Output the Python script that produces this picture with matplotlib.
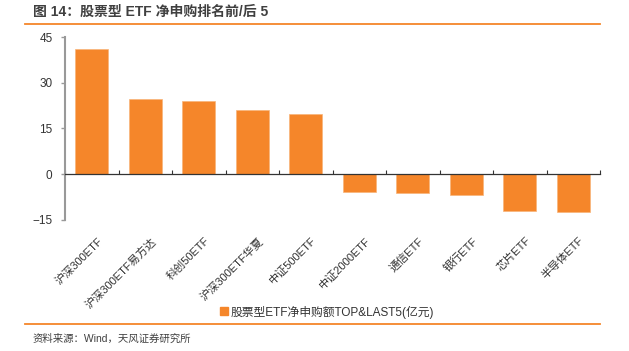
import matplotlib
matplotlib.use("Agg")
import matplotlib.pyplot as plt
from matplotlib.lines import Line2D
import numpy as np

plt.rcParams['font.family'] = ['Liberation Sans', 'Noto Sans CJK SC', 'DejaVu Sans']

categories = ["沪深300ETF", "沪深300ETF易方达", "科创50ETF", "沪深300ETF华夏", "中证500ETF",
              "中证2000ETF", "通信ETF", "银行ETF", "芯片ETF", "半导体ETF"]
values = [41.1, 24.7, 24.0, 21.0, 19.7, -5.8, -6.3, -6.9, -12.0, -12.5]
yticks = [-15, 0, 15, 30, 45]
title = "图 14：股票型 ETF 净申购排名前/后 5"
legend_label = "股票型ETF净申购额TOP&LAST5(亿元)"
source = "资料来源：Wind，天风证券研究所"

orange = "#F5862A"

fig = plt.figure(figsize=(6.29, 3.51), dpi=100)
W, H = 629, 351
ax = fig.add_axes([65 / W, 1 - 220 / H, (600 - 65) / W, (220 - 37) / H])

x = np.arange(len(categories))
ax.bar(x, values, width=0.62, color=orange, edgecolor="#F8B57A", linewidth=0.5, zorder=2)

ax.set_xlim(-0.5, len(categories) - 0.5)
ax.set_ylim(-15, 45)
ax.set_yticks(yticks)
ax.tick_params(axis='y', direction='out', length=3, width=1, color='#999999',
               labelsize=8.5, labelcolor='#333333', pad=6)

for s in ['top', 'right']:
    ax.spines[s].set_visible(False)
ax.spines['left'].set_color('#999999')
ax.spines['left'].set_linewidth(1.5)
ax.spines['bottom'].set_position(('data', 0))
ax.spines['bottom'].set_color('#333333')
ax.spines['bottom'].set_linewidth(0.9)

ax.set_xticks(x)
ax.set_xticklabels(categories, rotation=45, ha='right', va='top', rotation_mode='anchor',
                   fontsize=8, color='#333333')
ax.set_xticks(np.arange(len(categories) + 1) - 0.5, minor=True)
ax.tick_params(axis='x', which='major', length=0, pad=44)
ax.tick_params(axis='x', which='minor', direction='in', length=3, width=0.8, color='#333333')
for lbl in ax.get_xticklabels():
    lbl.set_transform(lbl.get_transform() + matplotlib.transforms.ScaledTranslation(4 / 72, 0, fig.dpi_scale_trans))

# legend
handle = Line2D([], [], marker='s', linestyle='none', markersize=6, color=orange)
fig.legend([handle], [legend_label], loc='center', bbox_to_anchor=(326 / W, 1 - 312 / H),
           frameon=False, fontsize=8.5, handletextpad=0.1, handlelength=1.0,
           labelcolor='#333333')

# title and decorations
fig.text(33 / W, 1 - 12 / H, title, fontsize=10, fontweight='bold', color='#404040',
         va='center', ha='left')
fig.add_artist(Line2D([25 / W, 600 / W], [1 - 24 / H, 1 - 24 / H], color=orange, linewidth=1.3,
                      transform=fig.transFigure))
fig.add_artist(Line2D([25 / W, 600 / W], [1 - 324 / H, 1 - 324 / H], color=orange, linewidth=1.3,
                      transform=fig.transFigure))
fig.text(33 / W, 1 - 339 / H, source, fontsize=7.5, color='#404040', va='center', ha='left')

fig.savefig("out.png", dpi=100)
